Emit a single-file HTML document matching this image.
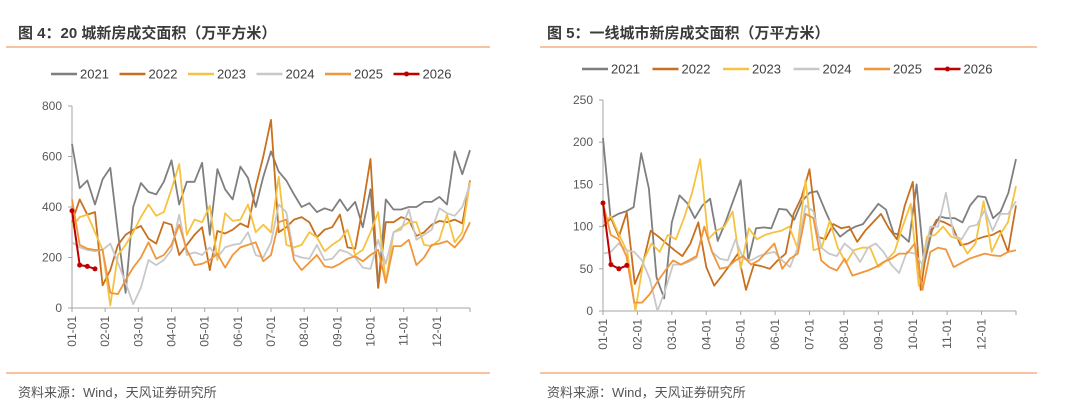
<!DOCTYPE html>
<html><head><meta charset="utf-8">
<style>
html,body{margin:0;padding:0;background:#fff;}
body{width:1080px;height:409px;overflow:hidden;font-family:"Liberation Sans","Noto Sans CJK SC",sans-serif;}
svg text{font-family:"Liberation Sans","Noto Sans CJK SC",sans-serif;}
</style></head>
<body>
<svg id="s" width="1080" height="409">
<text x="18" y="38" font-size="15" font-weight="bold" fill="#3a3a3a">图 4：20 城新房成交面积（万平方米）</text>
<line x1="6" y1="47" x2="490" y2="47" stroke="#f4b183" stroke-width="1.5"/>
<line x1="6" y1="373" x2="490" y2="373" stroke="#f4b183" stroke-width="1.5"/>
<text x="18" y="397" font-size="13" fill="#555">资料来源：Wind，天风证券研究所</text>
<text x="547" y="38" font-size="15" font-weight="bold" fill="#3a3a3a">图 5：一线城市新房成交面积（万平方米）</text>
<line x1="540" y1="47" x2="1037" y2="47" stroke="#f4b183" stroke-width="1.5"/>
<line x1="540" y1="373" x2="1037" y2="373" stroke="#f4b183" stroke-width="1.5"/>
<text x="547" y="397" font-size="13" fill="#555">资料来源：Wind，天风证券研究所</text>
</svg>
<script>
const years=["2021","2022","2023","2024","2025","2026"];
const colors=["#7f7f7f","#c8701e","#f5c242","#c8c8c8","#f0963c","#c00000"];
const monthLabels=["01-01","02-01","03-01","04-01","05-01","06-01","07-01","08-01","09-01","10-01","11-01","12-01"];
const c4Ticks=[0,200,400,600,800];
const c4y2021=[650,475,505,410,510,555,300,60,400,495,460,450,500,585,410,500,500,575,290,550,470,430,560,515,400,520,620,540,505,450,400,415,380,395,385,430,385,420,320,470,80,430,390,390,400,400,420,420,440,410,620,530,625];
const c4y2022=[340,430,370,380,90,150,250,290,310,325,275,255,340,330,210,250,290,320,150,305,295,310,335,320,480,600,745,300,320,350,360,340,280,310,320,370,240,235,400,590,80,340,340,360,350,285,300,330,345,340,350,335,505];
const c4y2023=[320,360,370,300,230,10,210,250,300,360,410,365,380,470,570,290,350,340,405,190,375,345,350,410,300,330,300,520,250,240,250,300,280,225,250,270,310,210,230,300,380,100,300,320,340,340,250,245,270,370,260,300,500];
const c4y2024=[260,240,230,225,230,255,180,100,15,80,190,170,190,230,370,210,220,210,240,200,240,250,255,300,210,200,260,410,380,210,200,195,250,190,195,230,220,200,160,155,270,175,300,310,390,270,290,310,395,375,365,400,490];
const c4y2025=[430,250,235,230,230,60,55,110,160,200,260,195,210,250,330,230,170,175,190,215,160,210,240,250,260,185,210,340,350,190,150,180,210,165,160,175,195,205,185,210,230,100,245,245,270,170,200,250,255,265,240,275,340];
const c4y2026=[385,170,165,155];
const c5Ticks=[0,50,100,150,200,250];
const c5y2021=[205,110,115,118,123,187,145,40,15,105,137,128,110,125,133,83,105,130,155,60,98,99,98,121,120,108,130,140,142,120,100,88,95,100,103,115,127,120,92,90,82,150,55,95,112,110,110,105,125,136,135,110,118,140,180];
const c5y2022=[100,110,88,117,32,55,95,88,80,72,65,80,105,52,30,42,55,68,25,55,53,50,60,68,115,135,168,88,85,103,98,100,82,95,105,115,98,85,125,153,25,90,108,105,100,78,80,85,88,90,95,70,125];
const c5y2023=[105,112,90,70,0,60,80,70,90,85,110,140,180,85,95,100,118,50,98,85,90,93,95,100,75,155,72,75,107,75,57,72,75,75,52,60,70,100,127,30,88,90,100,88,85,68,80,130,70,90,105,148];
const c5y2024=[68,70,80,72,70,60,38,0,25,55,55,58,63,100,70,62,60,85,62,60,65,68,70,60,52,75,125,118,75,68,65,80,72,58,75,80,70,55,45,70,68,55,100,100,140,90,85,100,102,120,95,115,115,130];
const c5y2025=[128,90,85,65,10,10,20,35,48,60,55,60,65,100,70,50,52,60,65,55,60,70,80,50,62,68,115,110,60,52,48,62,42,45,48,52,58,62,68,68,80,25,70,75,73,52,57,62,65,68,66,65,70,72];
const c5y2026=[128,55,50,54];

const NS="http://www.w3.org/2000/svg";
const svg=document.getElementById('s');
function mk(tag,attrs,parent){const e=document.createElementNS(NS,tag);for(const k in attrs)e.setAttribute(k,attrs[k]);(parent||svg).appendChild(e);return e;}

function chart(id,cfg,series,ticks,max){
  const g=mk('g',{});
  
  
  const xs=i=>cfg.x0+i*(cfg.x1-cfg.x0)/52;
  const ys=v=>cfg.y0-v/max*(cfg.y0-cfg.yTop);
  // legend
  years.forEach((y,k)=>{
    const lx=cfg.legX+k*cfg.legStep;
    const lg=mk('g',{},g);
    
    
    mk('line',{x1:lx,y1:cfg.legY,x2:lx+26,y2:cfg.legY,stroke:colors[k],'stroke-width':2.5},lg);
    if(y==="2026")mk('circle',{cx:lx+13,cy:cfg.legY,r:2.5,fill:colors[k]},lg);
    const t=mk('text',{x:lx+29,y:cfg.legY+4.5,'font-size':13,fill:'#404040'},lg);t.textContent=y;
  });
  // axes
  const ya=mk('line',{x1:cfg.x0,y1:cfg.yTop,x2:cfg.x0,y2:cfg.y0,stroke:'#a6a6a6','stroke-width':1},g);
  
  
  const xa=mk('line',{x1:cfg.x0,y1:cfg.y0,x2:cfg.x1,y2:cfg.y0,stroke:'#a6a6a6','stroke-width':1},g);
  
  
  ticks.forEach(v=>{
    mk('line',{x1:cfg.x0-4,y1:ys(v),x2:cfg.x0,y2:ys(v),stroke:'#a6a6a6'},g);
    const t=mk('text',{x:cfg.x0-10,y:ys(v)+4,'font-size':12,fill:'#595959','text-anchor':'end'},g);
    
    
    t.textContent=v;
  });
  monthLabels.forEach((m,k)=>{
    const x=cfg.x0+k*(cfg.x1-cfg.x0)/12;
    mk('line',{x1:x,y1:cfg.y0,x2:x,y2:cfg.y0+4,stroke:'#a6a6a6'},g);
    const t=mk('text',{x:0,y:0,'font-size':12,fill:'#595959','text-anchor':'end',transform:`translate(${x+4},${cfg.y0+8}) rotate(-90)`},g);
    
    
    t.textContent=m;
  });
  mk('line',{x1:cfg.x1,y1:cfg.y0,x2:cfg.x1,y2:cfg.y0+4,stroke:'#a6a6a6'},g);
  series.forEach((d,k)=>{
    const n=d.length;
    const step=n>10?(cfg.x1-cfg.x0)/(n-1):(cfg.x1-cfg.x0)/52;
    const pts=d.map((v,i)=>(cfg.x0+i*step).toFixed(1)+','+ys(v).toFixed(1)).join(' ');
    const p=mk('polyline',{points:pts,fill:'none',stroke:colors[k],'stroke-width':k==5?2:1.8,'stroke-linejoin':'round'},g);
    
    
    if(k==5)d.forEach((v,i)=>mk('circle',{cx:cfg.x0+i*step,cy:ys(v),r:2.5,fill:colors[k]},g));
  });
}
chart('chart4-plot',{x0:72,x1:470,y0:308,yTop:106,legX:51,legStep:68.5,legY:74},[c4y2021,c4y2022,c4y2023,c4y2024,c4y2025,c4y2026],c4Ticks,800);
chart('chart5-plot',{x0:603,x1:1016,y0:311,yTop:100,legX:582,legStep:70.5,legY:69},[c5y2021,c5y2022,c5y2023,c5y2024,c5y2025,c5y2026],c5Ticks,250);
</script>
</body></html>
